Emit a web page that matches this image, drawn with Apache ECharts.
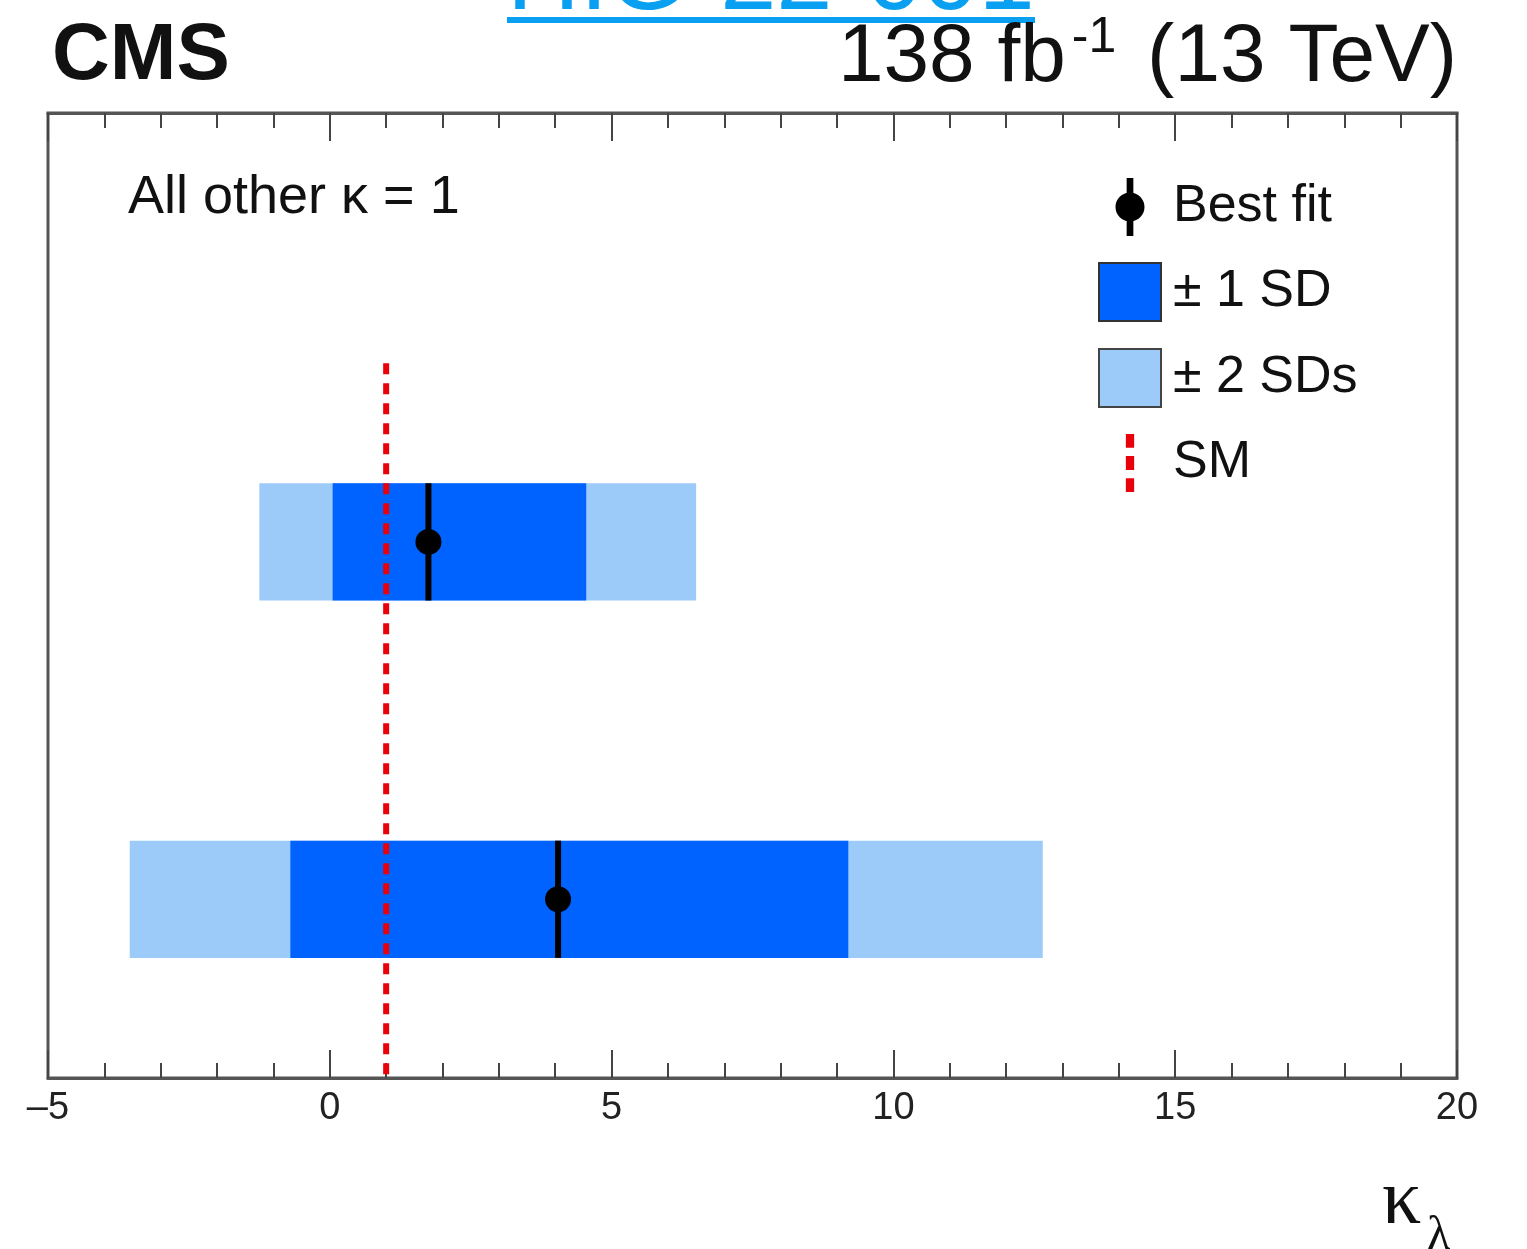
<!DOCTYPE html>
<html>
<head>
<meta charset="utf-8">
<script src="https://cdn.jsdelivr.net/npm/echarts@6/dist/echarts.min.js"></script>
<style>
  html, body { margin: 0; padding: 0; background: #fff; }
  #chart { width: 1527px; height: 1249px; }
</style>
</head>
<body>
<div id="chart"></div>
<script>
// two fit results, top row first
const rowPos = [2, 1]
const bestFit = [1.75, 4.05]
const sd1Low = [0.05, -0.7]
const sd1High = [4.55, 9.2]
const sd2Low = [-1.25, -3.55]
const sd2High = [6.5, 12.65]
const smValue = 1
const smSpan = [2.5, 0.5]
const xRange = [-5, 20]

const BAND_HALF = 0.164
const FONT = '"Liberation Sans", Arial, Helvetica, sans-serif'
const SERIF = '"Liberation Serif", "DejaVu Serif", serif'

const chart = echarts.init(document.getElementById('chart'))

function renderBand(params, api) {
  const y = api.value(2)
  const p0 = api.coord([api.value(0), y])
  const p1 = api.coord([api.value(1), y])
  const h = api.size([0, BAND_HALF])[1]
  return {
    type: 'rect',
    shape: { x: p0[0], y: p0[1] - h, width: p1[0] - p0[0], height: 2 * h },
    style: api.style(),
  }
}

function renderBest(params, api) {
  const p = api.coord([api.value(0), api.value(1)])
  const h = api.size([0, BAND_HALF])[1]
  return {
    type: 'group',
    children: [
      { type: 'line', shape: { x1: p[0], y1: p[1] - h, x2: p[0], y2: p[1] + h }, style: { stroke: '#000', lineWidth: 6 } },
      { type: 'circle', shape: { cx: p[0], cy: p[1], r: 13 }, style: { fill: '#000' } },
    ],
  }
}

const sd2Data = rowPos.map((y, i) => [sd2Low[i], sd2High[i], y])
const sd1Data = rowPos.map((y, i) => [sd1Low[i], sd1High[i], y])
const bestData = rowPos.map((y, i) => [bestFit[i], y])

const xAxisBase = {
  type: 'value',
  min: xRange[0],
  max: xRange[1],
  interval: 5,
  splitLine: { show: false },
  axisLine: { show: true, lineStyle: { color: '#555', width: 3 } },
  axisTick: { inside: true, length: 28, lineStyle: { color: '#444', width: 2 } },
  minorTick: { show: true, splitNumber: 5, length: 15, lineStyle: { color: '#444', width: 2 } },
}

// legend marker: vertical bar with a dot in the middle
const bestIcon = 'path://M10,0H16V52H10Z M0,26C0,18.82 5.82,13 13,13C20.18,13 26,18.82 26,26C26,33.18 20.18,39 13,39C5.82,39 0,33.18 0,26Z'

chart.setOption({
  animation: false,
  backgroundColor: '#fff',
  grid: { left: 48, right: 70, top: 113, bottom: 171, show: true, borderColor: '#555', borderWidth: 3 },
  xAxis: [
    {
      ...xAxisBase,
      position: 'bottom',
      axisLabel: {
        color: '#222',
        fontSize: 38,
        fontFamily: FONT,
        margin: 12,
        formatter: v => String(v).replace('-', '–'),
      },
    },
    { ...xAxisBase, position: 'top', axisLabel: { show: false } },
  ],
  yAxis: { type: 'value', min: 0.5, max: 3.2, show: false },
  legend: {
    orient: 'vertical',
    left: 1098,
    top: 178,
    padding: 0,
    itemWidth: 62,
    itemHeight: 58,
    itemGap: 26,
    textStyle: { fontSize: 52, color: '#111', fontFamily: FONT, padding: [0, 0, 0, 7] },
    data: [
      { name: 'Best fit', icon: bestIcon, itemStyle: { color: '#000' } },
      { name: '± 1 SD', icon: 'rect', itemStyle: { color: '#0062ff', borderColor: '#333', borderWidth: 2 } },
      { name: '± 2 SDs', icon: 'rect', itemStyle: { color: '#9ccbfa', borderColor: '#444', borderWidth: 2 } },
      {
        name: 'SM',
        icon: 'path://M0,0H6V10H0Z M0,16H6V26H0Z M0,32H6V42H0Z',
        itemStyle: { color: '#e8000b' },
      },
    ],
  },
  series: [
    {
      name: '± 2 SDs',
      type: 'custom',
      renderItem: renderBand,
      itemStyle: { color: '#9ccbfa' },
      data: sd2Data,
      z: 2,
    },
    {
      name: '± 1 SD',
      type: 'custom',
      renderItem: renderBand,
      itemStyle: { color: '#0062ff' },
      data: sd1Data,
      z: 3,
    },
    {
      name: 'SM',
      type: 'line',
      symbol: 'none',
      itemStyle: { color: '#e8000b' },
      lineStyle: { color: '#e8000b', width: 6, type: [11, 9] },
      data: smSpan.map(y => [smValue, y]),
      z: 4,
    },
    {
      name: 'Best fit',
      type: 'custom',
      renderItem: renderBest,
      itemStyle: { color: '#000' },
      data: bestData,
      z: 5,
    },
  ],
  graphic: [
    {
      type: 'text',
      x: 507,
      y: -19,
      style: { text: 'HIG-22-001', fontSize: 101, fontFamily: FONT, fill: '#0aa0f2', verticalAlign: 'middle' },
    },
    { type: 'rect', shape: { x: 507, y: 17, width: 528, height: 6 }, style: { fill: '#0aa0f2' } },
    {
      type: 'text',
      x: 52,
      y: 57,
      style: { text: 'CMS', fontSize: 80, fontWeight: 'bold', fontFamily: FONT, fill: '#111', verticalAlign: 'middle' },
    },
    {
      type: 'text',
      x: 1457,
      y: 58,
      style: {
        text: '{a|138 fb}{s|-1}{a| (13 TeV)}',
        align: 'right',
        verticalAlign: 'middle',
        fill: '#111',
        rich: {
          a: { fontSize: 82, fontFamily: FONT, fill: '#111' },
          s: { fontSize: 50, fontFamily: FONT, fill: '#111', verticalAlign: 'top', padding: [0, 8, 40, 6] },
        },
      },
    },
    {
      type: 'text',
      x: 128,
      y: 198,
      style: { text: 'All other κ = 1', fontSize: 54, fontFamily: FONT, fill: '#111', verticalAlign: 'middle' },
    },
    {
      type: 'text',
      x: 1382,
      y: 1203,
      style: { text: 'κ', fontSize: 78, fontFamily: SERIF, fill: '#111', verticalAlign: 'middle' },
    },
    {
      type: 'text',
      x: 1427,
      y: 1236,
      style: { text: 'λ', fontSize: 48, fontFamily: SERIF, fill: '#111', verticalAlign: 'middle' },
    },
  ],
})
</script>
</body>
</html>
